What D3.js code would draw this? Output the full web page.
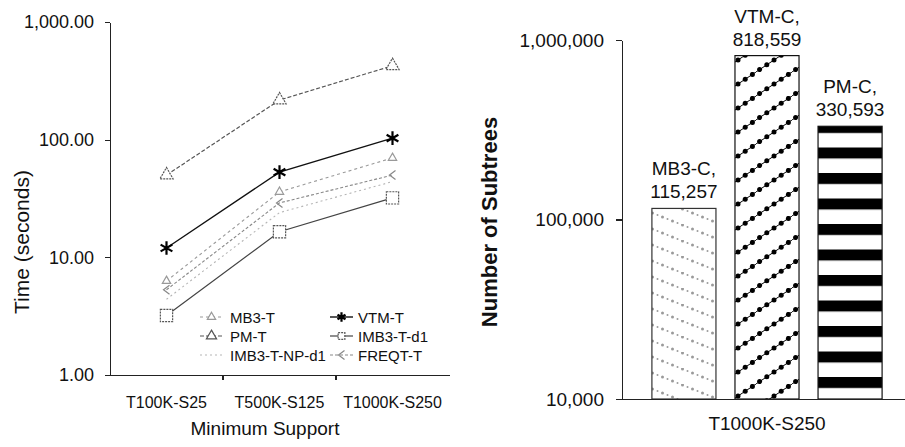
<!DOCTYPE html>
<html>
<head>
<meta charset="utf-8">
<script src="https://cdn.jsdelivr.net/npm/d3@7/dist/d3.min.js"></script>
<style>
  html, body { margin: 0; padding: 0; background: #fff; }
  svg { display: block; font-family: "Liberation Sans", Arial, sans-serif; }
  .axis path, .axis line { stroke: #222; stroke-width: 1.3; shape-rendering: crispEdges; }
  .axis text { fill: #111; }
</style>
</head>
<body>
<svg id="chart" width="905" height="447"></svg>
<script>
// ---------------- DATA ----------------
const minSupport = ["T100K-S25", "T500K-S125", "T1000K-S250"];
const timeTicks = [1, 10, 100, 1000];
const mb3T      = [6.3, 36, 70];
const pmT       = [50, 217, 425];
const imb3NPd1  = [4.4, 24, 44];
const vtmT      = [12, 53, 103];
const imb3d1    = [3.2, 16.5, 32];
const freqtT    = [5.3, 29, 50];

const barCategory = ["T1000K-S250"];
const barSeries   = ["MB3-C", "VTM-C", "PM-C"];
const barValues   = [115257, 818559, 330593];
const countTicks  = [10000, 100000, 1000000];

// ---------------- SETUP ----------------
const svg = d3.select("#chart");
const defs = svg.append("defs");

const lineSeries = [
  { name: "MB3-T",        values: mb3T },
  { name: "PM-T",         values: pmT },
  { name: "IMB3-T-NP-d1", values: imb3NPd1 },
  { name: "VTM-T",        values: vtmT },
  { name: "IMB3-T-d1",    values: imb3d1 },
  { name: "FREQT-T",      values: freqtT }
];
const styles = {
  "MB3-T":        { stroke: "#9a9a9a", width: 1.1, dash: "3,3", marker: "tri",   mstroke: "#999", msize: 30 },
  "PM-T":         { stroke: "#555",    width: 1.2, dash: "4,2", marker: "tri",   mstroke: "#555", msize: 75 },
  "IMB3-T-NP-d1": { stroke: "#b5b5b5", width: 1.1, dash: "2,3", marker: null },
  "VTM-T":        { stroke: "#111",    width: 1.4, dash: null,  marker: "star",  mstroke: "#000", msize: 130 },
  "IMB3-T-d1":    { stroke: "#444",    width: 1.2, dash: null,  marker: "square",mstroke: "#555", msize: 150 },
  "FREQT-T":      { stroke: "#888",    width: 1.1, dash: "3,2", marker: "chev",  mstroke: "#888", msize: 1 }
};

// ---------------- LEFT CHART ----------------
const xL = d3.scaleBand(minSupport, [110, 449]);
const yL = d3.scaleLog().domain([1, 1000]).range([375, 22]);

const gL = svg.append("g");

gL.append("g").attr("class", "axis").attr("transform", "translate(110,0)")
  .call(d3.axisLeft(yL).tickValues(timeTicks).tickFormat(d3.format(",.2f"))
    .tickSize(5).tickSizeOuter(0).tickPadding(11))
  .call(g => g.selectAll("text").style("font-size", "18px"));

const xAxisL = gL.append("g").attr("class", "axis").attr("transform", "translate(0,375)")
  .call(d3.axisBottom(xL).tickSize(0).tickSizeOuter(0).tickPadding(22))
  .call(g => g.selectAll("text").style("font-size", "16px"));
xAxisL.selectAll(".bound").data(minSupport.slice(1)).join("line")
  .attr("class", "bound")
  .attr("x1", d => xL(d)).attr("x2", d => xL(d))
  .attr("y1", 0).attr("y2", 5);

gL.append("text").attr("transform", "translate(29,242) rotate(-90)")
  .attr("text-anchor", "middle").style("font-size", "21px").attr("fill", "#111")
  .text("Time (seconds)");
gL.append("text").attr("x", 265).attr("y", 435)
  .attr("text-anchor", "middle").style("font-size", "19px").attr("fill", "#111")
  .text("Minimum Support");

function drawMarker(sel, type, size, stroke) {
  if (!type) return;
  if (type === "chev") {
    sel.append("path").attr("d", "M3,-4.5L-3,0L3,4.5")
      .attr("fill", "none").attr("stroke", stroke).attr("stroke-width", 1.2);
    return;
  }
  const sym = type === "tri" ? d3.symbolTriangle
            : type === "square" ? d3.symbolSquare
            : d3.symbolAsterisk;
  sel.append("path").attr("d", d3.symbol(sym, size)())
    .attr("fill", type === "star" ? "none" : "#fff")
    .attr("stroke", stroke)
    .attr("stroke-width", type === "star" ? 2.2 : 1.2)
    .attr("stroke-dasharray", type === "square" || (type === "tri" && size > 50) ? "2,1" : null);
}

const line = d3.line().x((d, i) => xL(minSupport[i]) + xL.bandwidth() / 2).y(d => yL(d));

lineSeries.forEach(s => {
  const st = styles[s.name];
  gL.append("path").attr("d", line(s.values))
    .attr("fill", "none").attr("stroke", st.stroke)
    .attr("stroke-width", st.width).attr("stroke-dasharray", st.dash);
});
lineSeries.forEach(s => {
  const st = styles[s.name];
  s.values.forEach((v, i) => {
    const g = gL.append("g").attr("transform",
      `translate(${xL(minSupport[i]) + xL.bandwidth() / 2},${yL(v)})`);
    drawMarker(g, st.marker, st.msize, st.mstroke);
  });
});

const legendOrder = [["MB3-T", "PM-T", "IMB3-T-NP-d1"], ["VTM-T", "IMB3-T-d1", "FREQT-T"]];
const legX = [200, 330];
legendOrder.forEach((col, ci) => {
  col.forEach((name, ri) => {
    const st = styles[name];
    const y = 317 + ri * 19;
    const g = gL.append("g").attr("transform", `translate(${legX[ci]},${y})`);
    g.append("line").attr("x1", 0).attr("x2", 23).attr("y1", 0).attr("y2", 0)
      .attr("stroke", st.stroke).attr("stroke-width", st.width).attr("stroke-dasharray", st.dash);
    const m = g.append("g").attr("transform", "translate(11.5,0)");
    drawMarker(m, st.marker, st.marker === "star" ? 60 : st.marker === "chev" ? 1 : Math.min(st.msize, 45), st.mstroke);
    g.append("text").attr("x", ci === 0 ? 30 : 28).attr("y", 5.5)
      .style("font-size", "15px").attr("fill", "#111").text(name);
  });
});

// ---------------- RIGHT CHART ----------------
const pMB3 = defs.append("pattern").attr("id", "pMB3").attr("patternUnits", "userSpaceOnUse")
  .attr("width", 40).attr("height", 16);
d3.range(8).forEach(i => {
  const t = (i + 0.5) / 8;
  pMB3.append("circle").attr("cx", t * 40).attr("cy", t * 16).attr("r", i % 2 ? 1.0 : 1.5)
    .attr("fill", "#9a9a9a");
});

const pVTM = defs.append("pattern").attr("id", "pVTM").attr("patternUnits", "userSpaceOnUse")
  .attr("width", 36).attr("height", 24);
pVTM.append("rect").attr("width", 36).attr("height", 24).attr("fill", "#fff");
pVTM.append("line").attr("x1", 0).attr("y1", 24).attr("x2", 36).attr("y2", 0)
  .attr("stroke", "#000").attr("stroke-width", 1);
d3.range(5).forEach(i => {
  const t = (i + 0.5) / 5;
  pVTM.append("circle").attr("cx", t * 36).attr("cy", 24 - t * 24).attr("r", 2.5).attr("fill", "#000");
});

const xR = d3.scaleBand(barCategory, [622, 912]);
const xS = d3.scaleBand(barSeries, [0, xR.bandwidth()]).paddingInner(0.229).paddingOuter(0.36);
const yR = d3.scaleLog().domain([10000, 1000000]).range([399, 40]);

const pPM = defs.append("pattern").attr("id", "pPM").attr("patternUnits", "userSpaceOnUse")
  .attr("width", 10).attr("height", 25.5).attr("y", yR(10000) - 22);
pPM.append("rect").attr("width", 10).attr("height", 25.5).attr("fill", "#fff");
pPM.append("rect").attr("width", 10).attr("height", 11).attr("fill", "#000");

const fills = { "MB3-C": "url(#pMB3)", "VTM-C": "url(#pVTM)", "PM-C": "url(#pPM)" };

const gR = svg.append("g");
const bars = barSeries.map((s, i) => ({ s, v: barValues[i], c: barCategory[0] }));

gR.selectAll("rect.bar").data(bars).join("rect").attr("class", "bar")
  .attr("x", d => xR(d.c) + xS(d.s))
  .attr("y", d => yR(d.v))
  .attr("width", xS.bandwidth())
  .attr("height", d => yR(10000) - yR(d.v))
  .attr("fill", d => fills[d.s])
  .attr("stroke", d => d.s === "MB3-C" ? "#333" : "#111")
  .attr("stroke-width", 1.2);

const lab = gR.selectAll("g.lab").data(bars).join("g").attr("class", "lab")
  .attr("transform", d => `translate(${xR(d.c) + xS(d.s) + xS.bandwidth() / 2},${yR(d.v)})`);
lab.append("text").attr("y", -33).attr("text-anchor", "middle")
  .style("font-size", "19px").attr("fill", "#111").text(d => d.s + ",");
lab.append("text").attr("y", -10).attr("text-anchor", "middle")
  .style("font-size", "19px").attr("fill", "#111").text(d => d3.format(",")(d.v));

gR.append("g").attr("class", "axis").attr("transform", "translate(622,0)")
  .call(d3.axisLeft(yR).tickValues(countTicks).tickFormat(d3.format(","))
    .tickSize(6).tickSizeOuter(0).tickPadding(12))
  .call(g => g.selectAll("text").style("font-size", "19px"));
gR.append("g").attr("class", "axis").attr("transform", "translate(0,399)")
  .call(d3.axisBottom(xR).tickSize(0).tickSizeOuter(0).tickPadding(18))
  .call(g => g.selectAll("text").style("font-size", "19px"));

gR.append("text").attr("transform", "translate(497,222) rotate(-90)")
  .attr("text-anchor", "middle").style("font-size", "22px").style("font-weight", "bold")
  .attr("fill", "#111").text("Number of Subtrees");
</script>
</body>
</html>
